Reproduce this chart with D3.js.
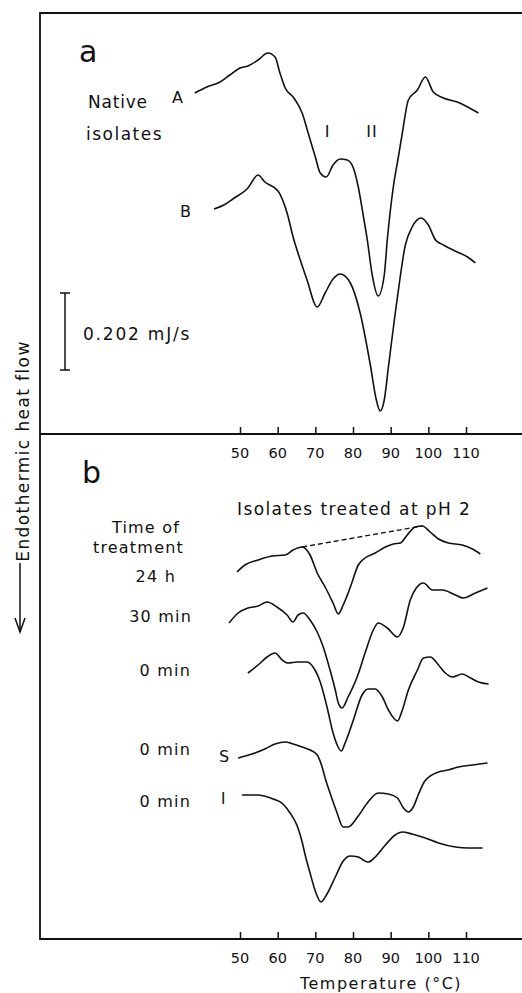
<!DOCTYPE html>
<html>
<head>
<meta charset="utf-8">
<script src="https://cdn.jsdelivr.net/npm/d3@7"></script>
<style>
  body { margin: 0; background: #fff; }
  svg text { font-family: "DejaVu Sans", sans-serif; fill: #111; }
</style>
</head>
<body>
<svg id="chart" width="522" height="993"></svg>
<script>
// DSC thermograms: temperature (°C) vs relative endothermic heat flow (a.u., scale bar below)
const ticks = [50, 60, 70, 80, 90, 100, 110];

// panel a: native isolates
const tempA = [38.0, 41.2, 44.7, 47.3, 50.0, 52.1, 54.8, 57.4, 59.3, 60.6, 62.0, 64.1, 66.5, 68.1, 70.0, 71.3, 72.9, 74.7, 76.6, 78.5, 80.1, 81.4, 82.7, 83.8, 85.1, 86.7, 88.3, 89.1, 90.7, 92.0, 93.1, 94.7, 97.1, 99.2, 101.3, 104.0, 107.7, 110.4, 113.3];
const flowA = [341, 347, 352, 359, 366, 368, 374, 381, 377, 361, 346, 337, 321, 301, 277, 261, 257, 269, 275, 274, 266, 247, 219, 194, 159, 138, 159, 194, 247, 276, 301, 334, 344, 357, 342, 336, 332, 327, 321];
const tempB = [43.1, 45.7, 48.1, 52.1, 54.8, 56.6, 60.1, 62.5, 64.1, 66.0, 67.8, 70.5, 72.6, 74.7, 76.6, 79.3, 81.9, 84.6, 86.2, 87.2, 88.3, 89.4, 91.8, 93.9, 95.7, 98.1, 100.0, 101.9, 104.0, 107.7, 110.4, 112.5];
const flowB = [225, 229, 235, 246, 259, 252, 243, 221, 197, 174, 154, 127, 141, 155, 160, 151, 121, 69, 34, 23, 34, 67, 137, 189, 207, 216, 209, 194, 189, 182, 177, 171];

// panel b: isolates treated at pH 2
const temp24h = [49.2, 51.3, 54.8, 58.5, 62.0, 64.1, 66.5, 68.6, 70.5, 72.6, 74.7, 76.1, 77.4, 79.3, 81.4, 83.2, 85.9, 88.6, 90.7, 92.6, 94.4, 96.5, 98.4, 100.5, 102.7, 105.3, 109.0, 111.7, 113.8];
const flow24h = [367, 374, 379, 383, 384, 389, 392, 384, 366, 352, 336, 325, 334, 352, 374, 381, 386, 392, 395, 396, 404, 412, 413, 407, 400, 396, 394, 390, 385];
const temp30 = [47.1, 49.5, 52.1, 54.8, 57.2, 59.8, 62.5, 64.1, 65.4, 66.8, 68.6, 70.5, 72.1, 73.9, 75.3, 76.1, 77.1, 78.7, 81.1, 83.2, 85.4, 86.7, 89.1, 91.8, 93.4, 95.2, 96.8, 98.7, 101.1, 103.7, 107.2, 109.3, 112.5, 115.7];
const flow30 = [316, 326, 331, 333, 337, 332, 324, 317, 324, 326, 319, 307, 292, 269, 249, 236, 231, 242, 262, 286, 309, 316, 311, 302, 312, 339, 351, 356, 349, 349, 344, 341, 346, 351];
const temp0 = [52.1, 54.8, 57.2, 59.3, 61.2, 62.8, 65.2, 67.8, 69.4, 71.3, 73.1, 74.5, 75.8, 76.9, 77.9, 80.1, 82.4, 84.0, 85.9, 87.8, 89.4, 91.8, 93.1, 94.7, 97.1, 98.7, 100.5, 102.7, 104.5, 106.4, 109.0, 111.2, 113.3, 116.0];
const flow0 = [266, 274, 282, 286, 279, 276, 277, 277, 272, 257, 232, 209, 194, 188, 196, 219, 244, 250, 250, 242, 229, 218, 229, 249, 269, 281, 282, 274, 266, 262, 265, 261, 257, 255];
const tempS = [49.5, 53.2, 56.6, 59.3, 62.0, 64.1, 66.5, 68.6, 70.5, 71.8, 72.6, 73.9, 75.5, 77.4, 78.7, 81.4, 84.0, 86.7, 89.4, 91.8, 93.4, 94.7, 96.0, 97.3, 98.9, 100.5, 102.7, 105.3, 108.0, 111.7, 115.7];
const flowS = [181, 185, 190, 195, 197, 195, 192, 189, 184, 172, 161, 146, 129, 112, 112, 123, 137, 146, 145, 141, 131, 127, 132, 144, 157, 163, 167, 169, 172, 174, 176];
const tempI = [50.5, 54.5, 58.8, 61.4, 63.3, 65.2, 66.5, 67.3, 68.6, 69.9, 71.5, 73.1, 75.3, 77.4, 79.3, 81.4, 82.7, 84.0, 85.9, 88.6, 91.2, 93.1, 95.7, 99.2, 102.7, 107.2, 110.6, 114.4];
const flowI = [144, 144, 140, 135, 126, 113, 97, 84, 66, 49, 37, 45, 62, 78, 83, 82, 79, 77, 82, 94, 104, 107, 105, 101, 96, 92, 91, 91];

// dashed baseline on the 24 h curve (peak to peak)
const baseline24h = [[66.5, 392], [98.4, 413]];

// scale bar: 77 a.u. = 0.202 mJ/s
const scaleBarFrom = 64, scaleBarTo = 141;

const svg = d3.select("#chart");

const x = d3.scaleLinear().domain([50, 110]).range([240, 466]);
const yA = d3.scaleLinear().domain([0, 421]).range([434, 13]);
const yB = d3.scaleLinear().domain([0, 505]).range([939, 434]);

const zip = (t, f) => t.map((v, i) => [v, f[i]]);

function drawCurve(t, f, y) {
    const line = d3.line()
        .x(d => x(d[0]))
        .y(d => y(d[1]))
        .curve(d3.curveMonotoneX);
    svg.append("path")
        .attr("d", line(zip(t, f)))
        .attr("fill", "none")
        .attr("stroke", "#111")
        .attr("stroke-width", 1.6)
        .attr("stroke-linejoin", "round");
}

// --- Frame ---
const frame = svg.append("g").attr("stroke", "#111").attr("stroke-width", 1.8).attr("fill", "none");
frame.append("path").attr("d", "M522,13H40V939H522");
frame.append("line").attr("x1", 40).attr("x2", 522).attr("y1", 434).attr("y2", 434);

// --- Axes ---
function drawAxis(yPos, labelY) {
    const g = svg.append("g").attr("transform", `translate(0,${yPos})`);
    g.call(d3.axisTop(x).tickValues(ticks).tickSize(7).tickFormat(""));
    g.select(".domain").remove();
    g.selectAll(".tick line").attr("stroke", "#111").attr("stroke-width", 1.5);
    ticks.forEach(t => {
        svg.append("text")
            .attr("x", x(t)).attr("y", labelY)
            .attr("text-anchor", "middle")
            .attr("font-size", 14.5)
            .text(t);
    });
}
drawAxis(434, 458);
drawAxis(939, 963);

svg.append("text")
    .attr("x", 381).attr("y", 989)
    .attr("text-anchor", "middle")
    .attr("font-size", 16)
    .attr("letter-spacing", 1.5)
    .text("Temperature (°C)");

// --- Y label and arrow ---
svg.append("text")
    .attr("transform", "translate(29,451) rotate(-90)")
    .attr("text-anchor", "middle")
    .attr("font-size", 17)
    .attr("letter-spacing", 1.4)
    .text("Endothermic  heat  flow");
svg.append("line").attr("x1", 20).attr("x2", 20).attr("y1", 563).attr("y2", 632)
    .attr("stroke", "#111").attr("stroke-width", 1.5);
svg.append("path").attr("d", "M15,618L20,632L25,618")
    .attr("fill", "none").attr("stroke", "#111").attr("stroke-width", 1.5);

// --- Panel a ---
svg.append("text").attr("x", 79).attr("y", 62).attr("font-size", 30).text("a");
svg.append("text").attr("x", 88).attr("y", 108).attr("font-size", 17).attr("letter-spacing", 0.8).text("Native");
svg.append("text").attr("x", 86).attr("y", 140).attr("font-size", 17).attr("letter-spacing", 1.5).text("isolates");
svg.append("text").attr("x", 172).attr("y", 103).attr("font-size", 16).text("A");
svg.append("text").attr("x", 180).attr("y", 217).attr("font-size", 16).text("B");
svg.append("text").attr("x", 327).attr("y", 137).attr("text-anchor", "middle")
    .attr("font-family", "DejaVu Serif").attr("font-size", 16).text("I");
svg.append("text").attr("x", 372).attr("y", 137).attr("text-anchor", "middle")
    .attr("font-family", "DejaVu Serif").attr("font-size", 16).attr("letter-spacing", 1).text("II");

drawCurve(tempA, flowA, yA);
drawCurve(tempB, flowB, yA);

// scale bar
const bar = svg.append("g").attr("stroke", "#111").attr("stroke-width", 1.5);
bar.append("line").attr("x1", 65).attr("x2", 65).attr("y1", yA(scaleBarFrom)).attr("y2", yA(scaleBarTo));
bar.append("line").attr("x1", 60).attr("x2", 70).attr("y1", yA(scaleBarFrom)).attr("y2", yA(scaleBarFrom));
bar.append("line").attr("x1", 60).attr("x2", 70).attr("y1", yA(scaleBarTo)).attr("y2", yA(scaleBarTo));
svg.append("text").attr("x", 83).attr("y", 340).attr("font-size", 17).attr("letter-spacing", 1.8).text("0.202 mJ/s");

// --- Panel b ---
svg.append("text").attr("x", 82).attr("y", 483).attr("font-size", 30).text("b");
svg.append("text").attr("x", 237).attr("y", 515).attr("font-size", 17).attr("letter-spacing", 1.4).text("Isolates  treated  at  pH 2");

const timeLabels = [
    ["Time of", 180, 533],
    ["treatment", 184, 553],
    ["24 h", 176, 582],
    ["30 min", 192, 622],
    ["0 min", 191, 676],
    ["0 min", 191, 755],
    ["0 min", 191, 807]
];
timeLabels.forEach(([s, tx, ty]) => {
    svg.append("text").attr("x", tx).attr("y", ty)
        .attr("text-anchor", "end").attr("font-size", 16).attr("letter-spacing", 1.2)
        .text(s);
});
svg.append("text").attr("x", 219).attr("y", 762).attr("font-size", 16).text("S");
svg.append("text").attr("x", 221).attr("y", 804)
    .attr("font-family", "DejaVu Serif").attr("font-size", 15).text("I");

drawCurve(temp24h, flow24h, yB);
drawCurve(temp30, flow30, yB);
drawCurve(temp0, flow0, yB);
drawCurve(tempS, flowS, yB);
drawCurve(tempI, flowI, yB);

svg.append("line")
    .attr("x1", x(baseline24h[0][0])).attr("y1", yB(baseline24h[0][1]))
    .attr("x2", x(baseline24h[1][0])).attr("y2", yB(baseline24h[1][1]))
    .attr("stroke", "#111").attr("stroke-width", 1.3)
    .attr("stroke-dasharray", "5,3");
</script>
</body>
</html>
